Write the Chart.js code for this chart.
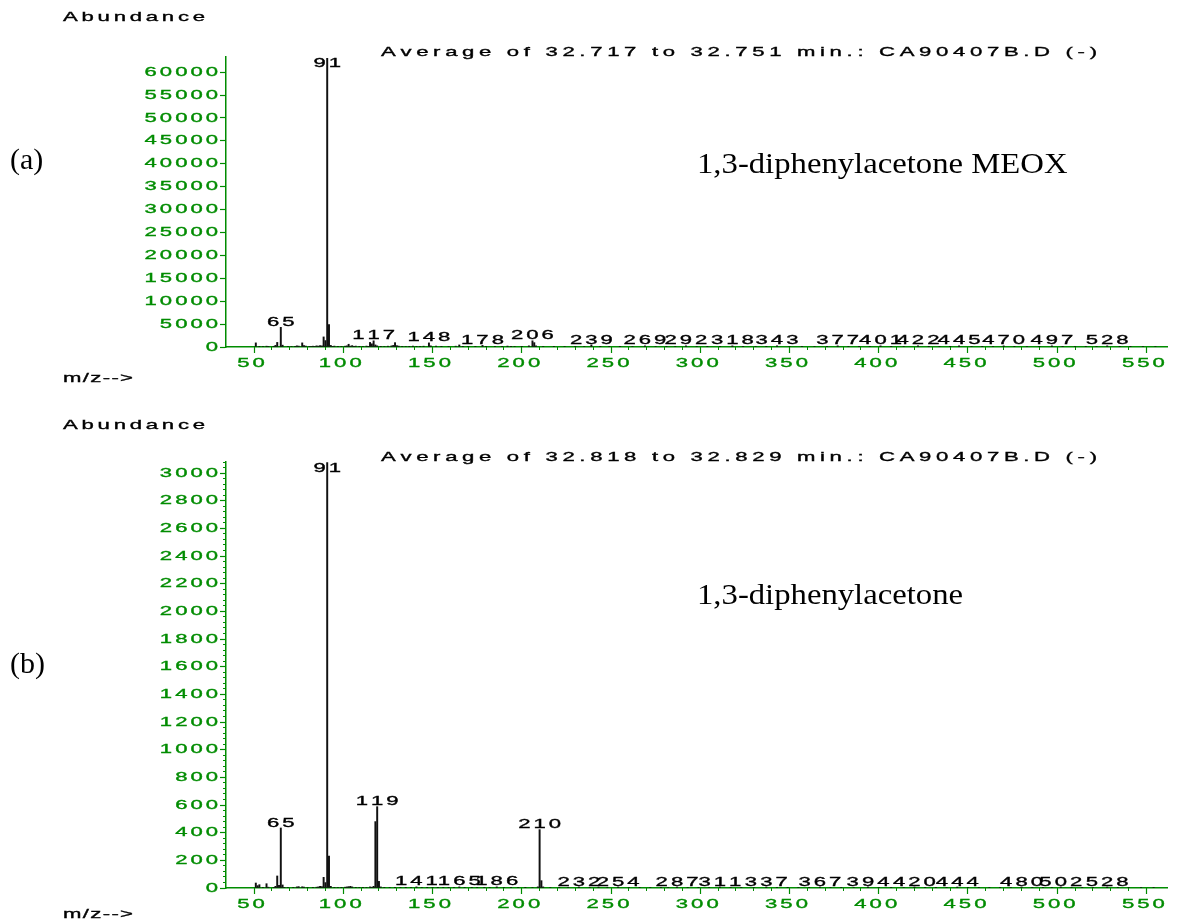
<!DOCTYPE html>
<html>
<head>
<meta charset="utf-8">
<script src="https://cdn.jsdelivr.net/npm/chart.js@4"></script>
<style>
  body { margin: 0; width: 1177px; height: 922px; overflow: hidden; background: #fff; position: relative; }
  canvas { position: absolute; left: 0; }
  .serif { position: absolute; font-family: "Liberation Serif", "Times New Roman", serif; font-size: 30px; line-height: 30px; color: #000; white-space: nowrap; transform-origin: left center; }
</style>
</head>
<body>
<canvas id="specA" width="1177" height="400" style="top:0"></canvas>
<canvas id="specB" width="1177" height="522" style="top:400px"></canvas>
<div class="serif" style="left:10px; top:144px">(a)</div>
<div class="serif" style="left:10px; top:648px">(b)</div>
<div class="serif" style="left:697px; top:148px; transform:scaleX(1.09)">1,3-diphenylacetone MEOX</div>
<div class="serif" style="left:697px; top:579px; transform:scaleX(1.09)">1,3-diphenylacetone</div>
<script>
// m/z axis
const xMin = 34.3, xMax = 561.5;
const xTicks = [50, 100, 150, 200, 250, 300, 350, 400, 450, 500, 550];

// (a) 1,3-diphenylacetone MEOX
const titleA = 'Average of 32.717 to 32.751 min.: CA90407B.D (-)';
const yTicksA = [0, 5000, 10000, 15000, 20000, 25000, 30000, 35000, 40000, 45000, 50000, 55000, 60000];
const mzA = [51, 53, 55, 57, 58, 61, 62, 63, 65, 66, 69, 71, 73, 74, 75, 77, 78, 79, 81, 82,
  83, 84, 85, 86, 87, 88, 89, 90, 91, 92, 93, 94, 95, 97, 99, 101, 102, 103, 104, 105,
  106, 107, 109, 111, 113, 114, 115, 116, 117, 118, 119, 121, 123, 125, 127, 128, 129, 130, 131, 133,
  135, 137, 139, 141, 143, 145, 148, 149, 152, 155, 159, 163, 165, 167, 170, 174, 178, 180, 185, 189,
  192, 194, 196, 200, 204, 206, 207, 208, 212, 218, 224, 230, 235, 239, 244, 249, 255, 262, 269, 275,
  281, 286, 292, 298, 304, 311, 318, 324, 331, 337, 343, 350, 357, 364, 371, 377, 383, 389, 395, 401,
  407, 414, 422, 428, 434, 440, 445, 452, 458, 464, 470, 476, 483, 490, 497, 503, 510, 516, 522, 528,
  535, 541, 548, 555];
const abA = [900, 150, 120, 180, 100, 160, 350, 1000, 4300, 400, 120, 100, 150, 250, 200, 900, 300, 200, 150, 120,
  180, 130, 250, 200, 300, 250, 2200, 1400, 63000, 4900, 350, 150, 200, 150, 120, 180, 250, 600, 200, 300,
  150, 200, 150, 120, 200, 150, 1000, 700, 1350, 450, 250, 150, 120, 180, 250, 350, 950, 300, 200, 150,
  120, 150, 200, 150, 120, 180, 900, 250, 200, 150, 120, 180, 450, 150, 120, 150, 350, 150, 120, 150,
  200, 150, 120, 150, 250, 1350, 950, 250, 120, 150, 120, 150, 120, 450, 150, 120, 150, 120, 250, 120,
  150, 120, 250, 120, 150, 120, 250, 150, 120, 150, 250, 120, 150, 120, 150, 250, 120, 150, 120, 250,
  150, 120, 250, 150, 120, 150, 250, 120, 150, 120, 250, 150, 120, 150, 250, 150, 120, 150, 120, 250,
  120, 150, 120, 100];
const peakLabelsA = [65, 91, 117, 148, 178, 206, 239, 269, 292, 318, 343, 377, 401, 422, 445, 470, 497, 528];

// (b) 1,3-diphenylacetone
const titleB = 'Average of 32.818 to 32.829 min.: CA90407B.D (-)';
const yTicksB = [0, 200, 400, 600, 800, 1000, 1200, 1400, 1600, 1800, 2000, 2200, 2400, 2600, 2800, 3000];
const mzB = [51, 52, 53, 55, 57, 58, 61, 62, 63, 64, 65, 66, 67, 69, 72, 74, 75, 77, 78, 80,
  83, 85, 86, 87, 88, 89, 90, 91, 92, 93, 95, 97, 99, 101, 102, 103, 104, 105, 107, 109,
  111, 113, 115, 116, 117, 118, 119, 120, 121, 123, 126, 129, 132, 135, 138, 141, 144, 147, 150, 153,
  156, 159, 162, 165, 168, 172, 175, 179, 182, 186, 190, 194, 198, 202, 206, 209, 210, 211, 212, 216,
  221, 226, 232, 238, 243, 248, 254, 260, 266, 272, 278, 282, 287, 293, 299, 305, 311, 317, 323, 330,
  337, 343, 349, 355, 361, 367, 373, 379, 386, 394, 400, 407, 414, 420, 426, 432, 438, 444, 450, 456,
  462, 468, 474, 480, 486, 492, 497, 502, 508, 514, 520, 528, 534, 540, 547, 554];
const abB = [36, 17, 24, 5, 31, 6, 5, 12, 87, 20, 434, 22, 5, 4, 5, 8, 10, 9, 6, 4,
  5, 6, 8, 12, 10, 77, 39, 3075, 231, 12, 5, 4, 5, 6, 8, 10, 12, 8, 5, 4,
  5, 4, 8, 6, 12, 480, 588, 48, 8, 5, 4, 5, 4, 5, 4, 8, 4, 5, 4, 5,
  4, 5, 4, 8, 4, 5, 4, 5, 4, 8, 4, 5, 4, 5, 4, 8, 422, 53, 8, 4,
  5, 4, 7, 4, 5, 4, 7, 4, 5, 4, 5, 4, 7, 4, 5, 4, 7, 4, 5, 4,
  7, 4, 5, 4, 5, 7, 4, 5, 4, 7, 4, 5, 4, 7, 4, 5, 4, 7, 4, 5,
  4, 5, 4, 7, 4, 5, 4, 7, 4, 5, 4, 7, 4, 5, 4, 5];
const peakLabelsB = [65, 91, 119, 141, 165, 186, 210, 232, 254, 287, 311, 337, 367, 394, 420, 444, 480, 502, 528];

const GREEN = 'rgb(0,140,0)';
const SX = 1.7, GAP = 3;

// wide ChemStation-style lettering: each glyph stretched horizontally;
// with fitW the spacing is spread so the run spans exactly fitW pixels
function wideText(ctx, str, x, y, align, color, fitW) {
  ctx.save();
  ctx.font = '13px "Liberation Sans", Arial, sans-serif';
  ctx.fillStyle = color;
  ctx.strokeStyle = color;
  ctx.lineWidth = 0.35;
  ctx.textBaseline = 'middle';
  ctx.textAlign = 'left';
  const chars = [...str];
  const glyphW = chars.map(c => ctx.measureText(c).width * SX);
  const sumW = glyphW.reduce((a, b) => a + b, 0);
  const gap = fitW ? (fitW - sumW) / Math.max(1, chars.length - 1) : GAP;
  const total = sumW + gap * (chars.length - 1);
  let cx = align === 'center' ? x - total / 2 : align === 'right' ? x - total : x;
  chars.forEach((c, i) => {
    ctx.save();
    ctx.translate(cx, y);
    ctx.scale(SX, 1);
    ctx.fillText(c, 0, 0);
    ctx.strokeText(c, 0, 0);
    ctx.restore();
    cx += glyphW[i] + gap;
  });
  ctx.restore();
}

const specLabels = {
  id: 'specLabels',
  afterDraw(chart, args, opts) {
    const ctx = chart.ctx;
    const xs = chart.scales.x, ys = chart.scales.y, area = chart.chartArea;
    ys.ticks.forEach(t => wideText(ctx, String(t.value), area.left - 8, ys.getPixelForValue(t.value), 'right', GREEN));
    xs.ticks.forEach(t => wideText(ctx, String(t.value), xs.getPixelForValue(t.value) - 3, area.bottom + 16, 'center', GREEN));
    opts.peaks.forEach(m => {
      const v = opts.values[opts.mz.indexOf(m)];
      const top = ys.getPixelForValue(v);
      const cy = Math.max(top - 5, area.top + 6);
      wideText(ctx, String(m), xs.getPixelForValue(m), cy, 'center', '#000');
    });
    wideText(ctx, 'Abundance', 63, opts.abundY, 'left', '#000', 142);
    wideText(ctx, opts.title, 381, opts.titleY, 'left', '#000', 716);
    wideText(ctx, 'm/z-->', 63, opts.mzY, 'left', '#000', 70);
  }
};

function onlySteps(step) {
  return s => { s.ticks = s.ticks.filter(t => Math.abs(t.value / step - Math.round(t.value / step)) < 1e-6); };
}

function makeSpectrum(id, mz, ab, yMax, yTicks, yMinor, peaks, title, pad, textY) {
  new Chart(document.getElementById(id), {
    type: 'bar',
    data: {
      datasets: [{
        data: mz.map((m, i) => ({ x: m, y: ab[i] })),
        backgroundColor: '#111',
        borderWidth: 0,
        barThickness: 1.3,
        grouped: false
      }]
    },
    options: {
      responsive: false,
      animation: false,
      events: [],
      layout: { padding: pad },
      plugins: {
        legend: { display: false },
        tooltip: { enabled: false },
        specLabels: { mz: mz, values: ab, peaks: peaks, title: title, abundY: textY[0], titleY: textY[1], mzY: textY[2] }
      },
      scales: {
        x: {
          type: 'linear', position: 'bottom', min: xMin, max: xMax, offset: false, weight: 1,
          grid: { drawOnChartArea: false, offset: false, tickLength: 6, tickColor: GREEN, tickWidth: 1.2 },
          border: { color: GREEN, width: 1.5 },
          ticks: { display: false },
          afterBuildTicks: s => { s.ticks = xTicks.map(v => ({ value: v })); },
          afterFit: s => { s.height = 6; }
        },
        xMinor: {
          type: 'linear', position: 'bottom', min: xMin, max: xMax, offset: false, weight: 0,
          grid: { drawOnChartArea: false, offset: false, tickLength: 3, tickColor: GREEN, tickWidth: 1 },
          border: { display: false },
          ticks: { display: false, stepSize: 10 },
          afterBuildTicks: onlySteps(10),
          afterFit: s => { s.height = 0; }
        },
        y: {
          type: 'linear', position: 'left', min: 0, max: yMax, weight: 1,
          grid: { drawOnChartArea: false, tickLength: 6, tickColor: GREEN, tickWidth: 1.2 },
          border: { color: GREEN, width: 1.5 },
          ticks: { display: false },
          afterBuildTicks: s => { s.ticks = yTicks.map(v => ({ value: v })); },
          afterFit: s => { s.width = 6; }
        },
        yMinor: {
          type: 'linear', position: 'left', min: 0, max: yMax, weight: 0,
          grid: { drawOnChartArea: false, tickLength: 3, tickColor: GREEN, tickWidth: 1 },
          border: { display: false },
          ticks: { display: false, stepSize: yMinor },
          afterBuildTicks: onlySteps(yMinor),
          afterFit: s => { s.width = 0; }
        }
      }
    },
    plugins: [specLabels]
  });
}

makeSpectrum('specA', mzA, abA, 63300, yTicksA, 1000, peakLabelsA, titleA,
  { left: 220, right: 10, top: 57, bottom: 47 }, [17, 52, 378]);
makeSpectrum('specB', mzB, abB, 3080, yTicksB, 40, peakLabelsB, titleB,
  { left: 220, right: 10, top: 62, bottom: 28 }, [25, 57, 514]);
</script>
</body>
</html>
